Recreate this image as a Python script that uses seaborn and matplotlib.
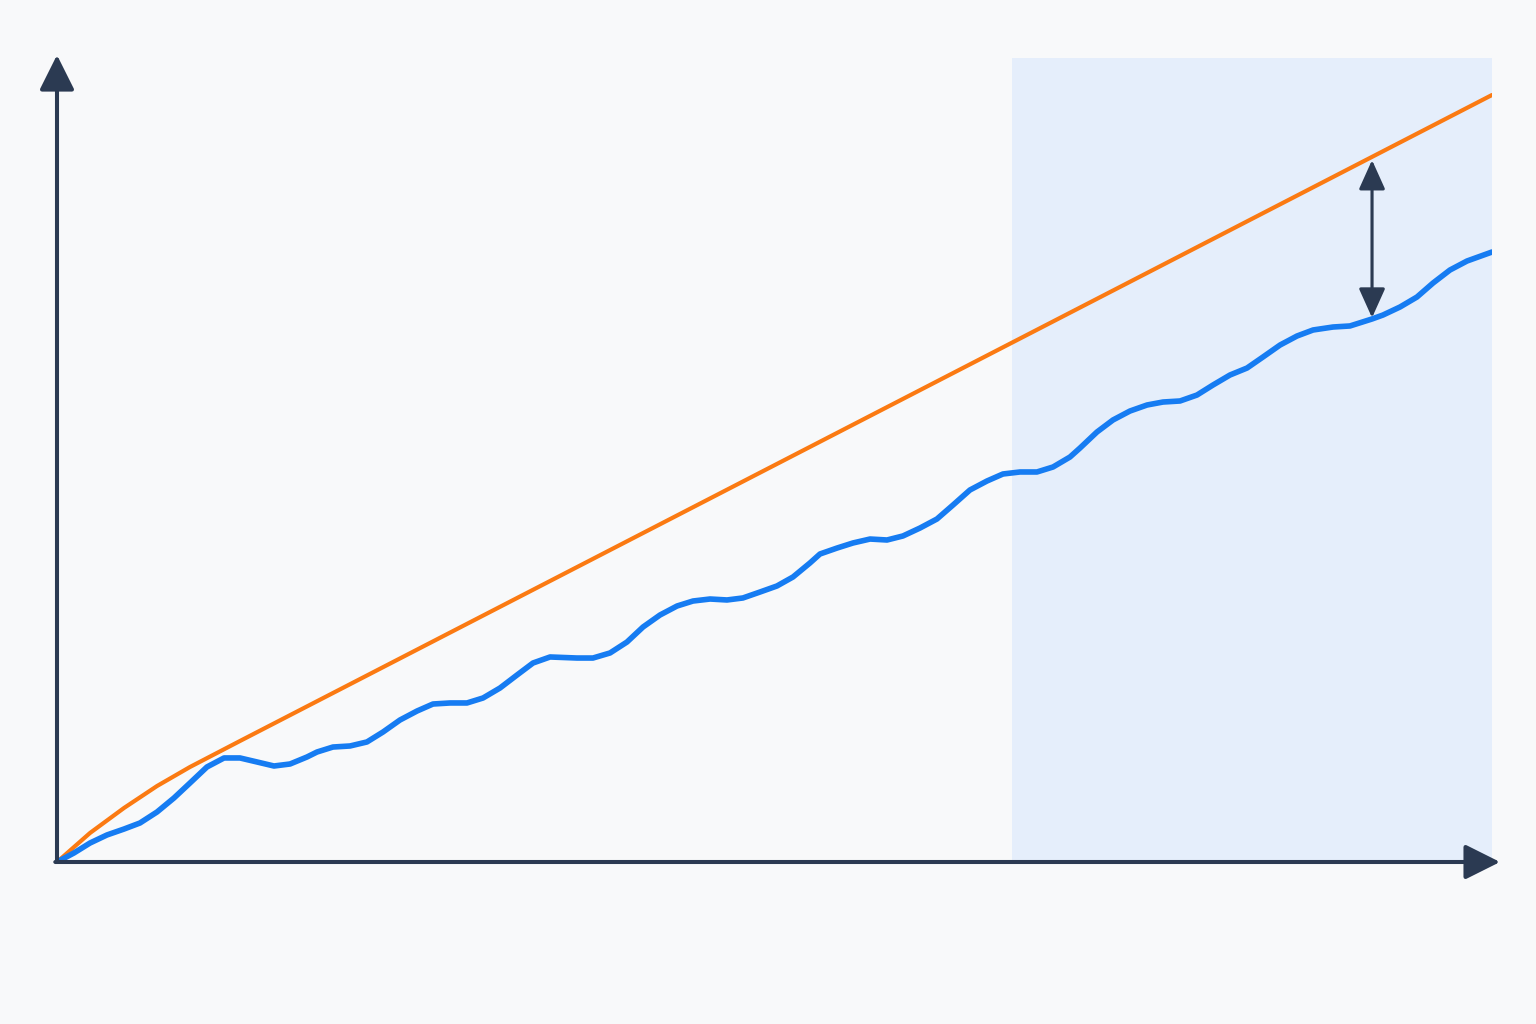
import numpy as np
import pandas as pd
import seaborn as sns
import matplotlib.pyplot as plt

# orange reference line (ideal growth)
ideal_x = [0, 2.30, 4.67, 6.97, 9.27, 12.75, 100]
ideal_y = [0, 3.61, 6.72, 9.45, 11.82, 15.05, 95.40]

# blue wavy line (actual growth)
actual_x = [0, 1.18, 2.30, 3.48, 4.67, 5.78, 6.97, 8.15, 9.27, 10.45, 11.64, 12.75,
            13.94, 15.12, 16.24, 17.42, 18.12, 19.23, 20.42, 21.60, 22.72, 23.90,
            25.09, 26.20, 27.39, 28.57, 29.69, 30.87, 32.06, 33.17, 34.36, 36.24,
            37.35, 38.54, 39.72, 40.84, 42.02, 43.21, 44.32, 45.51, 46.69, 47.80,
            48.99, 50.17, 51.29, 52.47, 53.17, 54.36, 55.47, 56.66, 57.84, 58.95,
            60.14, 61.32, 62.44, 63.62, 64.81, 65.92, 67.11, 68.29, 69.41, 70.59,
            71.29, 72.47, 73.59, 74.77, 75.96, 77.07, 78.26, 79.44, 80.56, 81.74,
            82.93, 84.04, 85.23, 86.41, 87.53, 88.92, 90.10, 91.64, 92.40, 93.59,
            94.77, 95.89, 97.07, 98.26, 100]
actual_y = [0, 1.12, 2.36, 3.36, 4.10, 4.85, 6.22, 7.96, 9.83, 11.82, 12.94, 12.94,
            12.44, 11.94, 12.19, 13.06, 13.68, 14.30, 14.43, 14.93, 16.17, 17.66,
            18.78, 19.65, 19.78, 19.78, 20.40, 21.64, 23.26, 24.75, 25.50, 25.37,
            25.37, 26.00, 27.36, 29.23, 30.72, 31.84, 32.46, 32.71, 32.59, 32.84,
            33.58, 34.33, 35.45, 37.19, 38.31, 39.05, 39.68, 40.17, 40.05, 40.55,
            41.54, 42.66, 44.40, 46.27, 47.39, 48.26, 48.51, 48.51, 49.13, 50.37,
            51.49, 53.48, 54.98, 56.09, 56.84, 57.21, 57.34, 58.08, 59.33, 60.57,
            61.44, 62.81, 64.30, 65.42, 66.17, 66.54, 66.67, 67.54, 68.03, 69.03,
            70.27, 72.01, 73.63, 74.75, 75.87]

# highlighted period and gap marker
shade_start, shade_end = 66.55, 100
gap_x, gap_low, gap_high = 91.64, 67.7, 87.3

bg = "#f8f9fa"
dark = "#2b3a52"
orange = "#fb7a12"
blue = "#167cf2"

sns.set_theme(style="white")

fig = plt.figure(figsize=(10.24, 1024 / 150), dpi=150, facecolor=bg)
ax = fig.add_axes([57 / 1536, 162 / 1024, 1435 / 1536, 804 / 1024])
ax.set_facecolor(bg)

ax.axvspan(shade_start, shade_end, color="#e5eefb", lw=0, zorder=0)

ideal = pd.DataFrame({"x": ideal_x, "y": ideal_y})
actual = pd.DataFrame({"x": actual_x, "y": actual_y})
sns.lineplot(data=ideal, x="x", y="y", color=orange, lw=2.0, sort=False,
             ax=ax, zorder=3, solid_capstyle="round", solid_joinstyle="round")
sns.lineplot(data=actual, x="x", y="y", color=blue, lw=2.7, sort=False,
             ax=ax, zorder=4, solid_capstyle="round", solid_joinstyle="round")

# axes drawn as arrows
axis_style = dict(arrowstyle="-|>,head_length=0.72,head_width=0.36", color=dark,
                  lw=1.95, shrinkA=0, shrinkB=0, mutation_scale=20)
ax.annotate("", xy=(0, 100.37), xytext=(0, 0), arrowprops=axis_style,
            annotation_clip=False, zorder=5)
ax.annotate("", xy=(100.56, 0), xytext=(-0.12, 0), arrowprops=axis_style,
            annotation_clip=False, zorder=5)

# double-headed gap arrow
ax.annotate("", xy=(gap_x, gap_high), xytext=(gap_x, gap_low),
            arrowprops=dict(arrowstyle="<|-|>,head_length=0.8,head_width=0.36",
                            color=dark, lw=1.5, shrinkA=0, shrinkB=0,
                            mutation_scale=15),
            zorder=6)

ax.set_xlim(0, 100)
ax.set_ylim(0, 100)
ax.set_xlabel("")
ax.set_ylabel("")
ax.set_xticks([])
ax.set_yticks([])
sns.despine(ax=ax, left=True, bottom=True)

plt.savefig("out.png", dpi=150, facecolor=bg)
